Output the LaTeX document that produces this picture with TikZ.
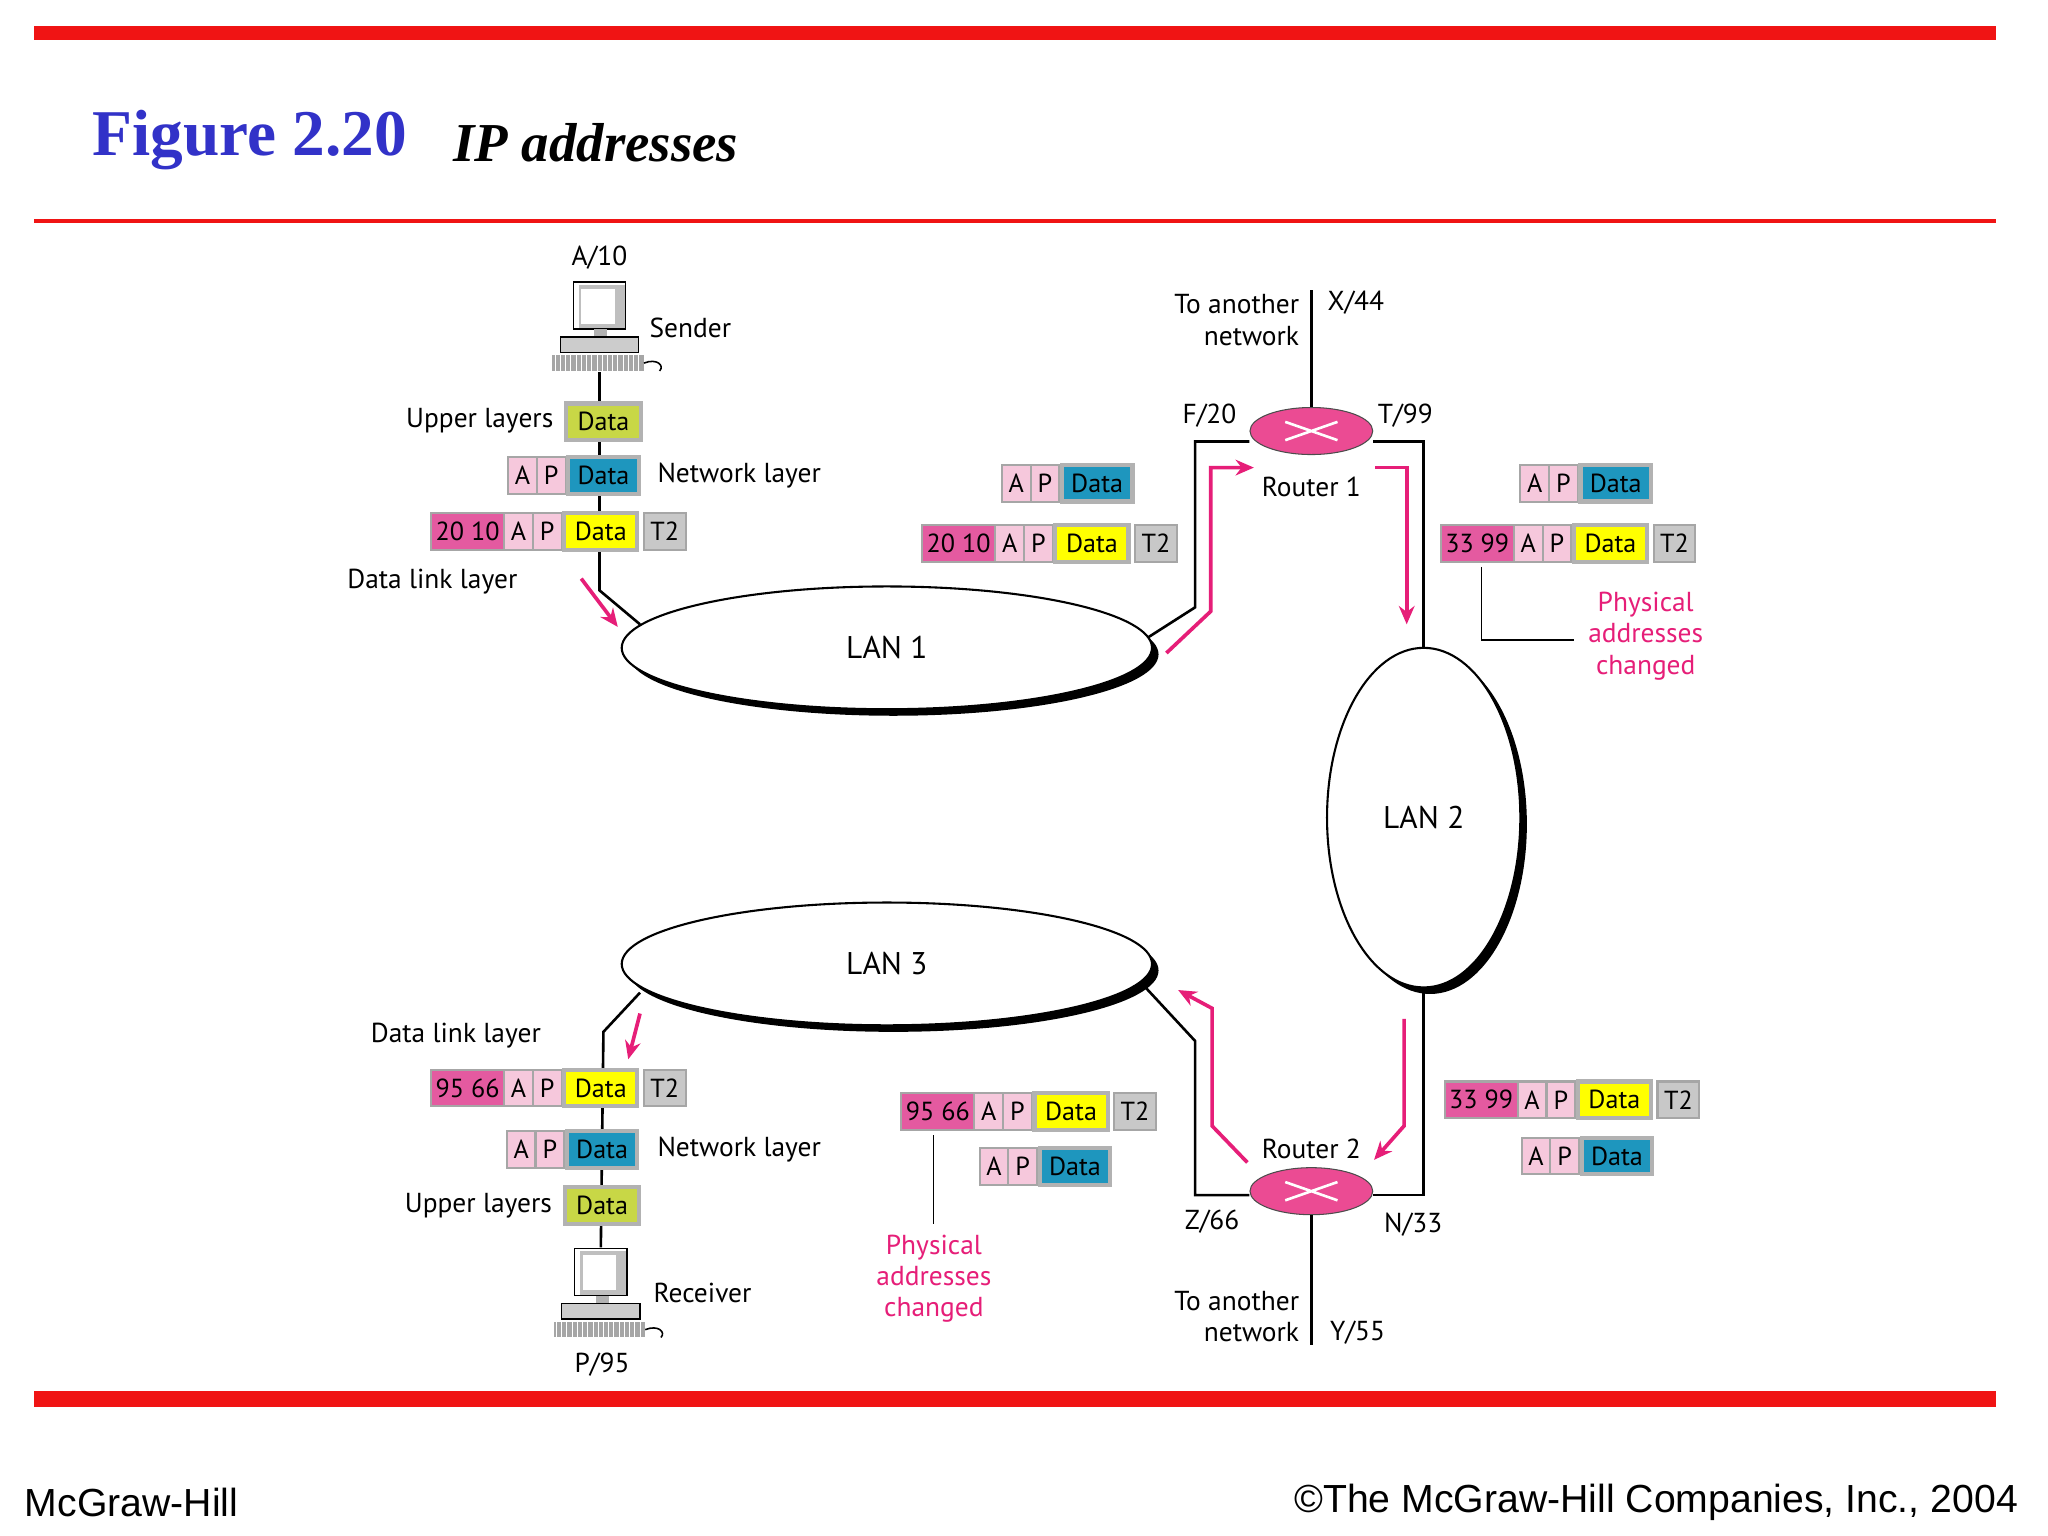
\documentclass[tikz,border=0pt]{standalone}
\usepackage{fontspec}
\setmainfont{PT Sans}
\newfontfamily\ser{Liberation Serif}
\newfontfamily\ars{Liberation Sans}
\usetikzlibrary{shapes.geometric,arrows.meta}
\definecolor{redbar}{RGB}{240,20,20}
\definecolor{ttlblue}{RGB}{50,50,200}
\definecolor{addr}{RGB}{228,90,160}
\definecolor{ap}{RGB}{246,200,220}
\definecolor{dyel}{RGB}{255,255,0}
\definecolor{dblu}{RGB}{30,150,190}
\definecolor{dgrn}{RGB}{200,215,70}
\definecolor{tgray}{RGB}{200,200,200}
\definecolor{pk}{RGB}{230,30,120}
\tikzset{
  pbox/.style={draw=gray!70,line width=0.8pt,inner sep=0pt,minimum height=14pt,font=\fontsize{10}{10}\selectfont},
  dbox/.style={pbox,line width=1.6pt,draw=gray!60},
  lbl/.style={font=\fontsize{10.5}{12}\selectfont,inner sep=1pt},
  plbl/.style={lbl,text=pk,align=center},
  lan/.style={ellipse,draw,fill=white,line width=0.8pt,font=\fontsize{12}{12}\selectfont},
  shadow/.style={ellipse,fill=black},
  router/.style={ellipse,draw=black!70,fill=pk!80,minimum width=47pt,minimum height=18pt,inner sep=0pt},
  conn/.style={line width=1pt},
  parr/.style={pk,line width=1.4pt,-{Stealth[length=7pt,width=6pt]}},
}
\newcommand\pb[7]{\node[#5,fill=#6,minimum width=#4*0.5pt] (#1) at (#2,#3) {#7};}
\newcommand\frm[4]{%
  \pb{#1a}{#2+28}{#3}{56}{pbox}{addr}{#4}
  \pb{#1A}{#2+67}{#3}{22}{pbox}{ap}{A}
  \pb{#1P}{#2+89}{#3}{22}{pbox}{ap}{P}
  \pb{#1D}{#2+130}{#3}{56}{dbox}{dyel}{Data}
  \pb{#1T}{#2+179}{#3}{32}{pbox}{tgray}{T2}}
\newcommand\npk[3]{%
  \pb{#1A}{#2+11}{#3}{22}{pbox}{ap}{A}
  \pb{#1P}{#2+33}{#3}{22}{pbox}{ap}{P}
  \pb{#1D}{#2+73}{#3}{54}{dbox}{dblu}{Data}}
\newcommand\comp[2]{%
  \begin{scope}[shift={(#1,#2)}]
   \fill[gray!50] (-16,-32) rectangle (20,2);
   \draw[black,line width=0.6pt] (-20,-34) rectangle (20,2);
   \fill[white] (-14,-29) rectangle (12,-2);
   \fill[gray!60] (-4,2) rectangle (6,8);
   \fill[gray!40] (-30,8) rectangle (30,20);
   \draw[line width=0.6pt] (-30,8) rectangle (30,20);
   \fill[gray!70] (-36,22) rectangle (34,34);
   \foreach \k in {-34,-30,...,30}{\draw[white,line width=0.3pt] (\k,22)--(\k,34);}
   \draw[line width=0.6pt] (34,28) .. controls (44,24) and (50,30) .. (46,34);
  \end{scope}}
\begin{document}
\begin{tikzpicture}[x=0.5pt,y=-0.5pt]
\useasboundingbox (0,0) rectangle (1568,1176);
\fill[white] (0,0) rectangle (1568,1176);
\fill[redbar] (26,20) rectangle (1528,31);
\fill[redbar] (26,168) rectangle (1528,171);
\fill[redbar] (26,1065) rectangle (1528,1077);
\node[anchor=west,text=ttlblue,font=\ser\bfseries\fontsize{25}{25}\selectfont] (ttl) at (64,107) {Figure 2.20};
\node[anchor=west,font=\ser\bfseries\itshape\fontsize{21}{21}\selectfont] (ttl2) at (340,109) {IP addresses};
\node[anchor=west,font=\ars\fontsize{15}{15}\selectfont] (ft1) at (12,1150) {McGraw-Hill};
\node[anchor=east,font=\ars\fontsize{15}{15}\selectfont] (ft2) at (1552,1150) {\textcopyright The McGraw-Hill Companies, Inc., 2004};

% LANs
\node[shadow,minimum width=406*0.5pt,minimum height=94*0.5pt] at (684,501) {};
\node[lan,minimum width=406*0.5pt,minimum height=94*0.5pt] (lan1) at (679,496) {LAN 1};
\node[shadow,minimum width=148*0.5pt,minimum height=260*0.5pt] at (1095,631) {};
\node[lan,minimum width=148*0.5pt,minimum height=260*0.5pt] (lan2) at (1090,626) {LAN 2};
\node[shadow,minimum width=406*0.5pt,minimum height=94*0.5pt] at (684,743) {};
\node[lan,minimum width=406*0.5pt,minimum height=94*0.5pt] (lan3) at (679,738) {LAN 3};
\coordinate (l1w) at (490,478);
\coordinate (l1e) at (879,488);
\coordinate (l3w) at (490,760);
\coordinate (l3e) at (877,756);

% routers
\node[router] (r1) at (1004,330) {};
\draw[white,line width=1pt] (r1.center) ++(-20,-7) -- ++(40,14) (r1.center) ++(-20,7) -- ++(40,-14);
\node[lbl] (r1l) at (1004,373) {Router 1};
\node[router] (r2) at (1004,912) {};
\draw[white,line width=1pt] (r2.center) ++(-20,-7) -- ++(40,14) (r2.center) ++(-20,7) -- ++(40,-14);
\node[lbl] (r2l) at (1004,880) {Router 2};

% computers
\comp{459}{250}
\coordinate (snd) at (459,285);
\comp{460}{990}
\coordinate (rcv) at (460,955);
\node[lbl] (a10) at (459,197) {A/10};
\node[lbl,anchor=west] (sl) at (495,251) {Sender};
\node[lbl] (p95) at (461,1045) {P/95};
\node[lbl,anchor=west] (rl) at (498,990) {Receiver};

% sender stack
\draw[conn] (snd) -- (459,452) -- (l1w);
\pb{sU}{462}{323}{57}{dbox}{dgrn}{Data}
\node[lbl,anchor=east] (sul) at (426,322) {Upper layers};
\npk{sN}{389}{364}
\node[lbl,anchor=west] (snl) at (501,364) {Network layer};
\frm{sF}{330}{407}{20 10}
\node[lbl] (sdl) at (331,445) {Data link layer};
\draw[parr] (445,443) -- (473,480);

% receiver stack
\draw[conn] (l3w) -- (462,790) -- (rcv);
\frm{rF}{330}{833}{95 66}
\node[lbl] (rdl) at (349,793) {Data link layer};
\draw[parr] (490,776) -- (481,811);
\npk{rN}{388}{880}
\node[lbl,anchor=west] (rnl) at (501,880) {Network layer};
\pb{rU}{461}{923}{57}{dbox}{dgrn}{Data}
\node[lbl,anchor=east] (rul) at (425,923) {Upper layers};

% router 1 connections
\draw[conn] (l1e) -- (915,465) -- (915,338) -- (r1.west|-0,338);
\draw[conn] (r1.east|-0,338) -- (1090,338) -- (lan2.north);
\draw[conn] (r1.north) -- (1004,222);
\node[lbl,anchor=east,align=right] (r1n) at (997,245) {To another\\network};
\node[lbl,anchor=west] (x44) at (1014,232) {X/44};
\node[lbl] (f20) at (926,318) {F/20};
\node[lbl] (t99) at (1076,318) {T/99};
\draw[parr] (893,500) -- (927,468) -- (927,358) -- (960,358);
\draw[parr] (1053,358) -- (1077,358) -- (1077,478);

% router 2 connections
\draw[conn] (lan2.south) -- (1090,915) -- (r2.east|-0,915);
\draw[conn] (r2.west|-0,915) -- (915,915) -- (915,797) -- (l3e);
\draw[conn] (r2.south) -- (1004,1030);
\node[lbl,anchor=east,align=right] (r2n) at (997,1008) {To another\\network};
\node[lbl,anchor=west] (y55) at (1016,1020) {Y/55};
\node[lbl] (z66) at (928,935) {Z/66};
\node[lbl] (n33) at (1082,938) {N/33};
\draw[parr] (1075,780) -- (1075,862) -- (1052,888);
\draw[parr] (955,890) -- (928,862) -- (928,772) -- (902,758);

% packets near LAN1 / router1
\npk{m1N}{767}{370}
\frm{m1F}{706}{416}{20 10}
\npk{t1N}{1164}{370}
\frm{t1F}{1103}{416}{33 99}
\draw (1134,434) -- (1134,490) -- (1205,490);
\node[plbl] (pa1) at (1260,487) {Physical\\addresses\\changed};

% packets near router2 / LAN3
\frm{m2F}{690}{851}{95 66}
\npk{m2N}{750}{893}
\draw (715,869) -- (715,937);
\node[plbl] (pa2) at (715,979) {Physical\\addresses\\changed};
\frm{t2F}{1106}{842}{33 99}
\npk{t2N}{1165}{885}
\end{tikzpicture}
\end{document}
